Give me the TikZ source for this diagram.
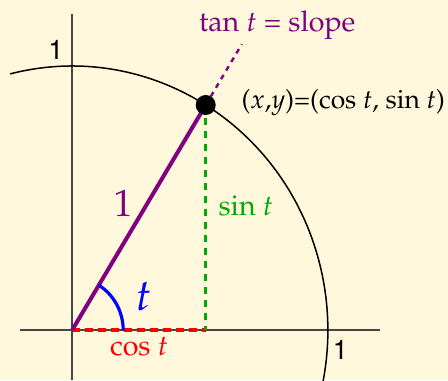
\documentclass[tikz,border=0pt]{standalone}
\usepackage[T1]{fontenc}
\usepackage{mathpazo}
\usepackage{xcolor}
\usepackage{tikz}
\usetikzlibrary{arrows.meta,calc,positioning}
\definecolor{bgyellow}{RGB}{255,248,220}
\definecolor{axisgray}{RGB}{70,70,70}
\definecolor{radpurple}{RGB}{128,0,128}
\definecolor{singreen}{RGB}{0,170,0}
\tikzset{
  axisline/.style={draw=axisgray,line width=0.9pt},
  unitlbl/.style={font=\fontfamily{phv}\fontsize{13.5}{15}\selectfont},
  lbl/.style={font=\fontsize{14.3}{17}\selectfont},
}

\begin{document}
\begin{tikzpicture}[x=127.8pt,y=132pt,>=Stealth]
    \fill[bgyellow] (-0.2817,-0.1894) rectangle (1.4695,1.25);
    \useasboundingbox (-0.2817,-0.1894) rectangle (1.4695,1.25);
    \clip (-0.2817,-0.1894) rectangle (1.4695,1.25);
    \coordinate (O) at (0,0);
    \coordinate (P) at (58.5:1);
    \coordinate (Q) at ($(O)!(P)!(1,0)$);
    \coordinate (T) at (58.5:1.27);
    \coordinate (A) at (0.2,0);
    % axes and circle
    \draw[axisline] (-0.2034,0) -- (1.205,0);
    \draw[axisline] (0,-0.1894) -- (0,1.197);
    \draw[line width=0.75pt] (104:1) arc[start angle=104,end angle=-13,radius=1];
    % cos, sin, radius
    \draw[red,line width=1.8pt,dash pattern=on 4pt off 2.5pt] (O) -- (Q);
    \draw[singreen,line width=1.5pt,dash pattern=on 3.5pt off 3pt] (P) -- (Q);
    \draw[radpurple,line width=1.2pt,dash pattern=on 2.5pt off 2.5pt] (P) -- (T);
    \draw[radpurple,line width=2pt] (O) -- (P);
    \draw[blue,line width=1.6pt] (A) arc[start angle=0,end angle=58.5,radius=0.2];
    \fill (P) circle (5pt);
    % labels
    \node[lbl,radpurple,anchor=base] (tanlbl) at (0.802,1.129) {tan $t$ = slope};
    \node[lbl,font=\fontsize{13.2}{16}\selectfont,anchor=base west,inner sep=0pt] (ptlbl) at (0.661,0.841) {($x$,$y$)=(cos $t$, sin $t$)};
    \node[radpurple,font=\fontsize{19}{21}\selectfont] (radlbl) at (0.2,0.481) {1};
    \node[lbl,singreen,anchor=base west,inner sep=0pt] (sinlbl) at (0.571,0.436) {sin $t$};
    \node[lbl,red,anchor=base] (coslbl) at (0.262,-0.095) {cos $t$};
    \node[blue,font=\fontsize{22}{24}\selectfont] (anglbl) at (0.282,0.129) {$t$};
    \node[unitlbl] (yone) at (-0.063,1.061) {1};
    \node[unitlbl] (xone) at (1.049,-0.076) {1};
\end{tikzpicture}
\end{document}
